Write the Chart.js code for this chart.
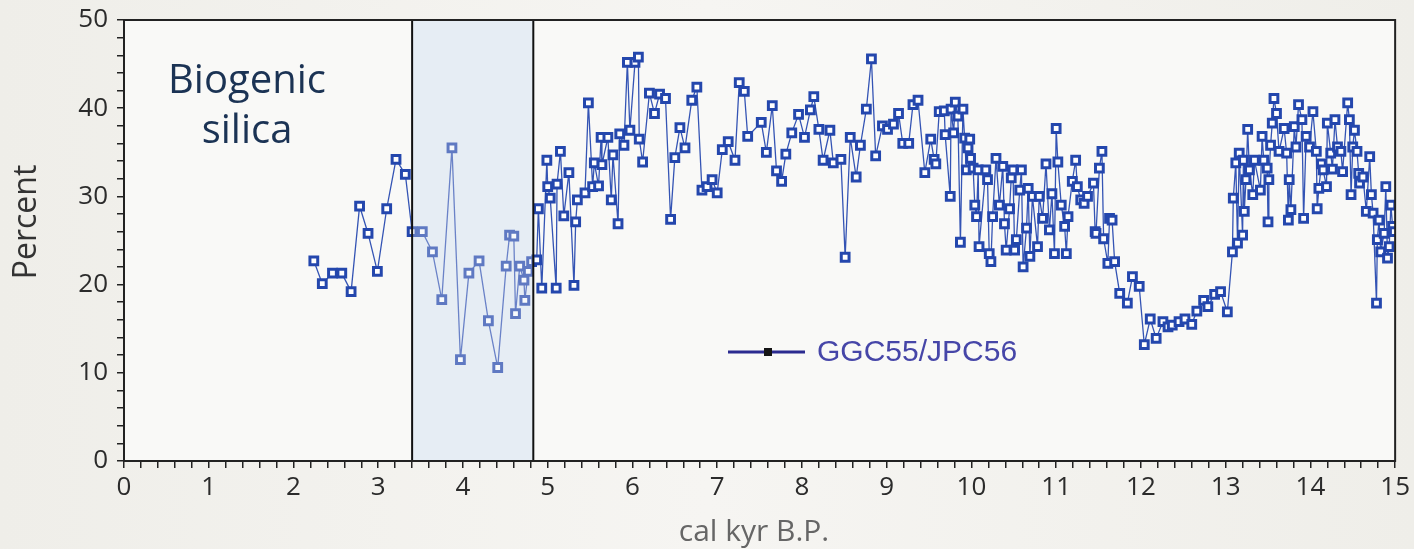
<!DOCTYPE html>
<html>
<head>
<meta charset="utf-8">
<title>Biogenic silica</title>
<script src="https://cdn.jsdelivr.net/npm/chart.js@4.4.1/dist/chart.umd.min.js"></script>
<style>
  html, body { margin: 0; padding: 0; background: #f2f1ed; }
  #chart { display: block; }
</style>
</head>
<body>
<canvas id="chart" width="1414" height="549"></canvas>
<script>
// age (cal kyr B.P.) and biogenic silica (%)
const ageKyr = [
  2.24, 2.34, 2.46, 2.57, 2.68, 2.78, 2.88, 2.99, 3.10, 3.21, 3.32, 3.40, 3.52, 3.64, 3.75, 3.87,
  3.97, 4.07, 4.19, 4.30, 4.41, 4.51, 4.55, 4.60, 4.62, 4.67, 4.72, 4.73, 4.77, 4.81, 4.87, 4.89,
  4.93, 4.99, 5.00, 5.03, 5.10, 5.11, 5.15, 5.19, 5.25, 5.31, 5.33, 5.35, 5.44, 5.48, 5.53, 5.55,
  5.60, 5.63, 5.64, 5.71, 5.75, 5.77, 5.83, 5.85, 5.90, 5.94, 5.97, 6.03, 6.07, 6.08, 6.12, 6.20,
  6.26, 6.32, 6.39, 6.45, 6.50, 6.56, 6.62, 6.70, 6.76, 6.82, 6.88, 6.94, 7.00, 7.06, 7.13, 7.21,
  7.26, 7.32, 7.36, 7.52, 7.58, 7.65, 7.70, 7.76, 7.81, 7.88, 7.96, 8.03, 8.10, 8.14, 8.20, 8.25,
  8.33, 8.37, 8.46, 8.51, 8.57, 8.64, 8.69, 8.76, 8.82, 8.87, 8.95, 9.01, 9.08, 9.14, 9.19, 9.26,
  9.31, 9.37, 9.45, 9.52, 9.56, 9.58, 9.62, 9.68, 9.69, 9.75, 9.76, 9.79, 9.81, 9.84, 9.87, 9.90,
  9.92, 9.94, 9.96, 9.98, 9.99, 10.02, 10.04, 10.06, 10.08, 10.09, 10.17, 10.19, 10.21, 10.23, 10.25, 10.29,
  10.33, 10.37, 10.39, 10.41, 10.45, 10.47, 10.49, 10.51, 10.53, 10.57, 10.59, 10.61, 10.65, 10.67, 10.69, 10.72,
  10.78, 10.80, 10.84, 10.88, 10.92, 10.95, 10.98, 11.00, 11.02, 11.06, 11.10, 11.12, 11.14, 11.19, 11.23, 11.25,
  11.29, 11.33, 11.37, 11.44, 11.46, 11.47, 11.51, 11.54, 11.56, 11.61, 11.63, 11.66, 11.69, 11.75, 11.84, 11.90,
  11.98, 12.04, 12.11, 12.18, 12.26, 12.32, 12.37, 12.45, 12.52, 12.60, 12.66, 12.74, 12.79, 12.87, 12.94, 13.02,
  13.08, 13.09, 13.12, 13.14, 13.16, 13.20, 13.21, 13.22, 13.24, 13.26, 13.28, 13.32, 13.34, 13.41, 13.43, 13.45,
  13.49, 13.50, 13.51, 13.53, 13.55, 13.57, 13.60, 13.63, 13.69, 13.72, 13.74, 13.75, 13.77, 13.81, 13.83, 13.86,
  13.90, 13.92, 13.95, 13.99, 14.03, 14.07, 14.08, 14.10, 14.13, 14.15, 14.19, 14.20, 14.24, 14.26, 14.29, 14.32,
  14.36, 14.38, 14.44, 14.46, 14.48, 14.50, 14.52, 14.55, 14.57, 14.58, 14.62, 14.66, 14.70, 14.72, 14.74, 14.78,
  14.79, 14.81, 14.83, 14.87, 14.89, 14.91, 14.93, 14.95, 14.97, 14.99
];
const silicaPct = [
  22.7, 20.1, 21.3, 21.3, 19.2, 28.9, 25.8, 21.5, 28.6, 34.2, 32.5, 26.0, 26.0, 23.7, 18.3, 35.5,
  11.5, 21.3, 22.7, 15.9, 10.6, 22.1, 25.6, 25.5, 16.7, 22.1, 20.5, 18.2, 21.5, 22.6, 22.8, 28.6,
  19.6, 34.1, 31.1, 29.8, 19.6, 31.4, 35.1, 27.8, 32.7, 19.9, 27.1, 29.6, 30.4, 40.6, 31.1, 33.8,
  31.2, 36.7, 33.6, 36.7, 29.6, 34.7, 26.9, 37.1, 35.8, 45.2, 37.5, 45.2, 45.8, 36.5, 33.9, 41.7,
  39.4, 41.6, 41.1, 27.4, 34.4, 37.8, 35.5, 40.9, 42.4, 30.7, 31.1, 31.9, 30.4, 35.3, 36.2, 34.1,
  42.9, 41.9, 36.8, 38.4, 35.0, 40.3, 32.9, 31.7, 34.8, 37.2, 39.3, 36.7, 39.8, 41.3, 37.6, 34.1,
  37.5, 33.8, 34.2, 23.1, 36.7, 32.2, 35.8, 39.9, 45.6, 34.6, 38.0, 37.6, 38.2, 39.4, 36.0, 36.0,
  40.4, 40.9, 32.7, 36.5, 34.2, 33.7, 39.6, 39.7, 37.0, 30.0, 39.9, 37.2, 40.7, 39.1, 24.8, 39.9,
  36.6, 33.0, 35.5, 36.5, 34.3, 33.2, 29.0, 27.7, 33.0, 24.3, 33.0, 31.9, 23.5, 22.6, 27.7, 34.3,
  29.0, 33.4, 26.9, 23.9, 28.6, 32.1, 33.0, 23.9, 25.1, 30.7, 33.0, 22.0, 26.4, 30.9, 23.2, 30.0,
  24.3, 30.0, 27.5, 33.7, 26.2, 30.3, 23.5, 37.7, 33.9, 29.0, 26.6, 23.5, 27.7, 31.7, 34.1, 31.1,
  29.6, 29.2, 30.0, 31.5, 26.0, 25.8, 33.2, 35.1, 25.2, 22.4, 27.5, 27.3, 22.6, 19.0, 17.9, 20.9,
  19.8, 13.2, 16.1, 13.9, 15.8, 15.2, 15.4, 15.8, 16.1, 15.5, 17.0, 18.2, 17.5, 18.9, 19.2, 16.9,
  23.7, 29.8, 33.8, 24.7, 34.9, 25.6, 34.1, 28.3, 31.9, 37.6, 33.0, 30.2, 34.1, 30.7, 36.8, 34.1,
  33.2, 27.1, 31.9, 35.8, 38.3, 41.1, 39.4, 35.1, 37.7, 34.9, 27.3, 31.9, 28.5, 37.9, 35.6, 40.4,
  38.7, 27.5, 36.8, 35.6, 39.6, 35.1, 28.6, 30.9, 33.7, 33.0, 31.1, 38.3, 34.9, 33.1, 38.7, 35.6,
  35.1, 32.8, 40.6, 38.7, 30.2, 35.6, 37.5, 35.1, 32.6, 31.5, 32.2, 28.3, 34.5, 30.2, 28.1, 17.9,
  25.1, 27.3, 23.7, 25.8, 31.1, 23.0, 24.3, 29.0, 26.6, 26.0
];
const seriesName = "GGC55/JPC56";
const shadedKyr = [3.4, 4.83];   // highlighted interval
const xRange = [0, 15];
const yRange = [0, 50];

const points = ageKyr.map((a, i) => ({ x: a, y: silicaPct[i] }));

// backgrounds, shaded interval, frame, annotations
const decor = {
  id: "decor",
  beforeDraw(chart) {
    const { ctx, width, height, chartArea: ca } = chart;
    ctx.save();
    const g = ctx.createLinearGradient(0, 0, width, 0);
    g.addColorStop(0, "#efeee9");
    g.addColorStop(0.5, "#f6f5f2");
    g.addColorStop(1, "#efeee9");
    ctx.fillStyle = g;
    ctx.fillRect(0, 0, width, height);
    ctx.fillStyle = "#f9f9f7";
    ctx.fillRect(ca.left, ca.top, ca.right - ca.left, ca.bottom - ca.top);
    ctx.restore();
  },
  beforeDatasetsDraw(chart) {
    const { ctx, chartArea: ca, scales: { x } } = chart;
    const x0 = x.getPixelForValue(shadedKyr[0]);
    const x1 = x.getPixelForValue(shadedKyr[1]);
    ctx.save();
    ctx.fillStyle = "#e6ecf4";
    ctx.fillRect(x0, ca.top, x1 - x0, ca.bottom - ca.top);
    ctx.restore();
  },
  afterDatasetsDraw(chart) {
    const { ctx, chartArea: ca, scales: { x } } = chart;
    const x0 = x.getPixelForValue(shadedKyr[0]);
    const x1 = x.getPixelForValue(shadedKyr[1]);
    ctx.save();
    ctx.fillStyle = "rgba(233,238,246,0.3)";
    ctx.fillRect(x0, ca.top, x1 - x0, ca.bottom - ca.top);
    ctx.strokeStyle = "#111";
    ctx.lineWidth = 2;
    ctx.strokeRect(x0, ca.top, x1 - x0, ca.bottom - ca.top);
    ctx.restore();
  },
  afterDraw(chart) {
    const { ctx, chartArea: ca } = chart;
    ctx.save();
    // frame
    ctx.strokeStyle = "#222";
    ctx.lineWidth = 2;
    ctx.strokeRect(ca.left, ca.top, ca.right - ca.left, ca.bottom - ca.top);

    // axis titles
    ctx.fillStyle = "#666";
    ctx.font = "30px 'Open Sans'";
    ctx.textAlign = "center";
    ctx.textBaseline = "middle";
    ctx.fillText("cal kyr B.P.", 754, 532);

    ctx.fillStyle = "#333";
    ctx.font = "32px 'Open Sans'";
    ctx.translate(27, 222);
    ctx.rotate(-Math.PI / 2);
    ctx.fillText("Percent", 0, 0);
    ctx.setTransform(1, 0, 0, 1, 0, 0);

    // panel label
    ctx.fillStyle = "#1b3354";
    ctx.font = "40px 'Open Sans'";
    ctx.textBaseline = "alphabetic";
    ctx.fillText("Biogenic", 247, 93);
    ctx.fillText("silica", 247, 143);

    // legend
    const ly = 352;
    ctx.strokeStyle = "#2b2b90";
    ctx.lineWidth = 3;
    ctx.beginPath();
    ctx.moveTo(728, ly);
    ctx.lineTo(805, ly);
    ctx.stroke();
    ctx.fillStyle = "#151515";
    ctx.fillRect(764, ly - 4, 8, 8);
    ctx.fillStyle = "#4646a8";
    ctx.font = "30px 'Liberation Sans'";
    ctx.textAlign = "left";
    ctx.textBaseline = "middle";
    ctx.fillText(seriesName, 817, ly + 1);
    ctx.restore();
  }
};

new Chart(document.getElementById("chart"), {
  type: "line",
  data: {
    datasets: [{
      label: seriesName,
      data: points,
      borderColor: "#3454b4",
      borderWidth: 1.3,
      pointStyle: "rect",
      pointRadius: 5.5,
      pointBorderWidth: 3,
      pointBorderColor: "#2447ad",
      pointBackgroundColor: "#ffffff",
      tension: 0
    }]
  },
  options: {
    responsive: false,
    animation: false,
    devicePixelRatio: 1,
    layout: { padding: { top: 20, right: 17, left: 0, bottom: 0 } },
    plugins: { legend: { display: false }, tooltip: { enabled: false } },
    scales: {
      x: {
        type: "linear",
        min: xRange[0],
        max: xRange[1],
        afterFit: s => { s.height = 88; },
        border: { color: "#222", width: 2 },
        grid: { drawOnChartArea: false, tickLength: 7, color: "#222", lineWidth: 1.5 },
        ticks: {
          stepSize: 0.2,
          autoSkip: false,
          maxRotation: 0,
          maxTicksLimit: 200,
          padding: 4,
          color: "#2b2b2b",
          font: { family: "'Open Sans'", size: 26 },
          callback: v => Math.abs(v - Math.round(v)) < 1e-6 ? String(Math.round(v)) : ""
        }
      },
      y: {
        min: yRange[0],
        max: yRange[1],
        afterFit: s => { s.width = 124; },
        border: { color: "#222", width: 2 },
        grid: { drawOnChartArea: false, tickLength: 7, color: "#222", lineWidth: 1.5 },
        ticks: {
          stepSize: 2,
          autoSkip: false,
          maxTicksLimit: 100,
          padding: 9,
          color: "#2b2b2b",
          font: { family: "'Open Sans'", size: 26, lineHeight: 0.8 },
          callback: v => v % 10 === 0 ? String(v) : ""
        }
      }
    }
  },
  plugins: [decor]
});
</script>
</body>
</html>
